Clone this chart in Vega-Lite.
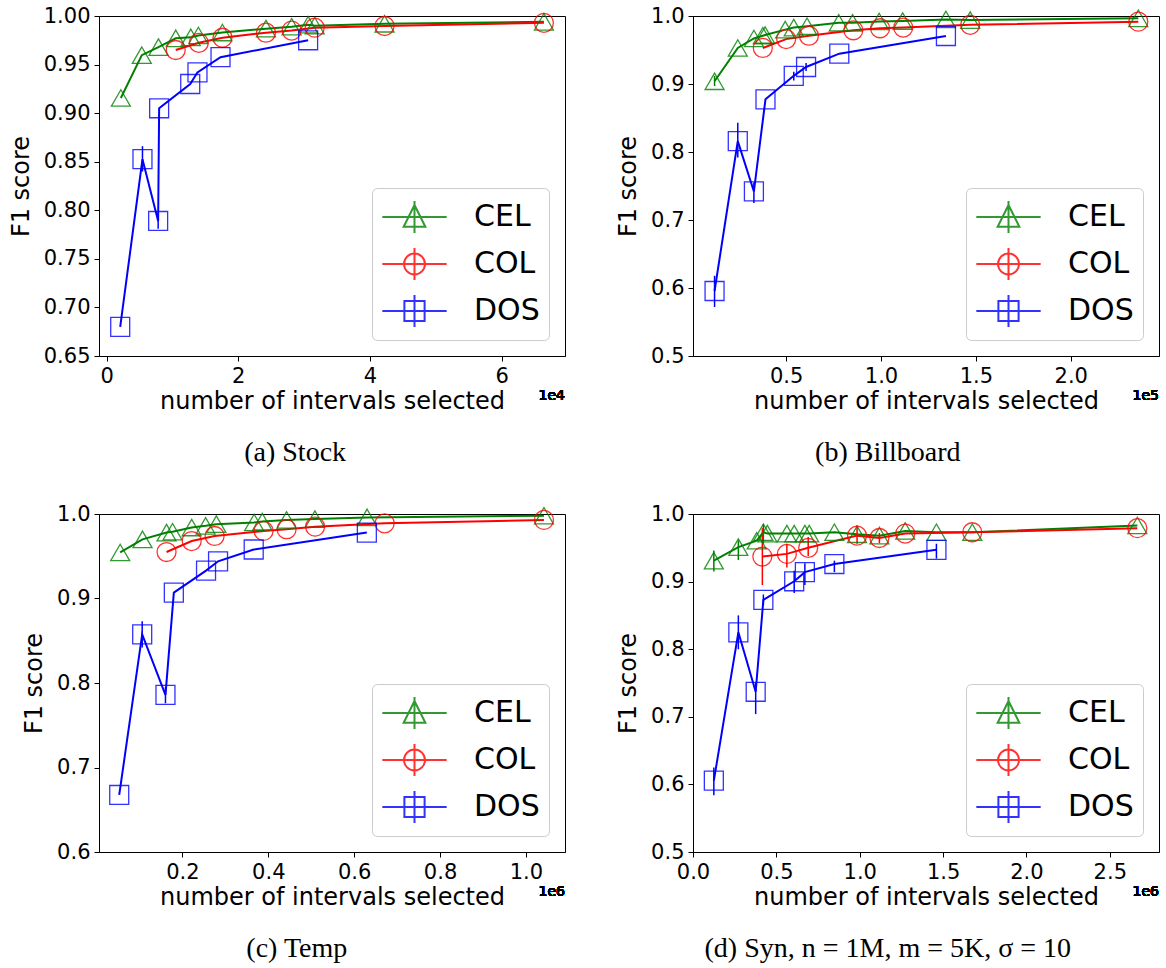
{
  "$schema": "https://vega.github.io/schema/vega-lite/v6.json",
  "background": "white",
  "padding": {"left": 8, "top": 4, "right": 5, "bottom": 5},
  "columns": 2,
  "spacing": {"row": 34, "column": 50},
  "resolve": {"scale": {"x": "independent", "y": "independent", "color": "independent", "shape": "independent"}, "legend": {"color": "independent", "shape": "independent"}},
  "datasets": {
    "a": [
      {"m": "CEL", "x": 2170, "y": 0.9156}, {"m": "CEL", "x": 5350, "y": 0.9597}, {"m": "CEL", "x": 7880, "y": 0.968},
      {"m": "CEL", "x": 10500, "y": 0.977}, {"m": "CEL", "x": 12780, "y": 0.978}, {"m": "CEL", "x": 13940, "y": 0.980},
      {"m": "CEL", "x": 17580, "y": 0.983}, {"m": "CEL", "x": 24200, "y": 0.987}, {"m": "CEL", "x": 28100, "y": 0.989},
      {"m": "CEL", "x": 30600, "y": 0.991}, {"m": "CEL", "x": 31600, "y": 0.990}, {"m": "CEL", "x": 42200, "y": 0.992},
      {"m": "CEL", "x": 66400, "y": 0.994},
      {"m": "COL", "x": 10500, "y": 0.965}, {"m": "COL", "x": 14000, "y": 0.9724}, {"m": "COL", "x": 17600, "y": 0.9776},
      {"m": "COL", "x": 24200, "y": 0.9828}, {"m": "COL", "x": 28100, "y": 0.985}, {"m": "COL", "x": 31600, "y": 0.988},
      {"m": "COL", "x": 42200, "y": 0.9897}, {"m": "COL", "x": 66400, "y": 0.993},
      {"m": "DOS", "x": 2070, "y": 0.680}, {"m": "DOS", "x": 5450, "y": 0.8526, "lo": 0.840, "hi": 0.866},
      {"m": "DOS", "x": 7830, "y": 0.789, "lo": 0.781, "hi": 0.797}, {"m": "DOS", "x": 7980, "y": 0.905},
      {"m": "DOS", "x": 12700, "y": 0.930}, {"m": "DOS", "x": 13800, "y": 0.942}, {"m": "DOS", "x": 17300, "y": 0.9576},
      {"m": "DOS", "x": 30600, "y": 0.975}
    ],
    "b": [
      {"m": "CEL", "x": 12260, "y": 0.904, "lo": 0.897, "hi": 0.912}, {"m": "CEL", "x": 24500, "y": 0.953}, {"m": "CEL", "x": 33000, "y": 0.967},
      {"m": "CEL", "x": 37700, "y": 0.971}, {"m": "CEL", "x": 38900, "y": 0.972}, {"m": "CEL", "x": 49500, "y": 0.980},
      {"m": "CEL", "x": 54000, "y": 0.983}, {"m": "CEL", "x": 61000, "y": 0.985}, {"m": "CEL", "x": 77700, "y": 0.990},
      {"m": "CEL", "x": 85000, "y": 0.990}, {"m": "CEL", "x": 99000, "y": 0.992}, {"m": "CEL", "x": 111400, "y": 0.9926},
      {"m": "CEL", "x": 134200, "y": 0.995}, {"m": "CEL", "x": 147000, "y": 0.994}, {"m": "CEL", "x": 235600, "y": 0.9966},
      {"m": "COL", "x": 37700, "y": 0.953}, {"m": "COL", "x": 50000, "y": 0.966}, {"m": "COL", "x": 62000, "y": 0.971},
      {"m": "COL", "x": 85400, "y": 0.979}, {"m": "COL", "x": 99500, "y": 0.982}, {"m": "COL", "x": 111700, "y": 0.983},
      {"m": "COL", "x": 147000, "y": 0.987}, {"m": "COL", "x": 235600, "y": 0.9917},
      {"m": "DOS", "x": 12260, "y": 0.5956, "lo": 0.572, "hi": 0.618}, {"m": "DOS", "x": 24500, "y": 0.816, "lo": 0.792, "hi": 0.843},
      {"m": "DOS", "x": 33000, "y": 0.742, "lo": 0.725, "hi": 0.755}, {"m": "DOS", "x": 39100, "y": 0.8775},
      {"m": "DOS", "x": 54000, "y": 0.912, "lo": 0.905, "hi": 0.918}, {"m": "DOS", "x": 60500, "y": 0.925, "lo": 0.919, "hi": 0.931},
      {"m": "DOS", "x": 78000, "y": 0.9446}, {"m": "DOS", "x": 134200, "y": 0.9706}
    ],
    "c": [
      {"m": "CEL", "x": 55000, "y": 0.9545}, {"m": "CEL", "x": 107000, "y": 0.970}, {"m": "CEL", "x": 163000, "y": 0.978},
      {"m": "CEL", "x": 177000, "y": 0.979}, {"m": "CEL", "x": 221600, "y": 0.984}, {"m": "CEL", "x": 254000, "y": 0.986},
      {"m": "CEL", "x": 279000, "y": 0.988}, {"m": "CEL", "x": 367000, "y": 0.990}, {"m": "CEL", "x": 386000, "y": 0.991},
      {"m": "CEL", "x": 442600, "y": 0.993}, {"m": "CEL", "x": 508600, "y": 0.994}, {"m": "CEL", "x": 630000, "y": 0.996},
      {"m": "CEL", "x": 1042000, "y": 0.998},
      {"m": "COL", "x": 163000, "y": 0.955}, {"m": "COL", "x": 221600, "y": 0.968}, {"m": "COL", "x": 275000, "y": 0.974},
      {"m": "COL", "x": 389000, "y": 0.980}, {"m": "COL", "x": 442600, "y": 0.982}, {"m": "COL", "x": 509000, "y": 0.985},
      {"m": "COL", "x": 671000, "y": 0.989}, {"m": "COL", "x": 1042000, "y": 0.993},
      {"m": "DOS", "x": 52800, "y": 0.6675}, {"m": "DOS", "x": 106300, "y": 0.8575, "lo": 0.842, "hi": 0.873},
      {"m": "DOS", "x": 160500, "y": 0.786, "lo": 0.776, "hi": 0.795}, {"m": "DOS", "x": 180000, "y": 0.907},
      {"m": "DOS", "x": 255000, "y": 0.933}, {"m": "DOS", "x": 283000, "y": 0.944}, {"m": "DOS", "x": 366000, "y": 0.958},
      {"m": "DOS", "x": 629500, "y": 0.978}
    ],
    "d": [
      {"m": "CEL", "x": 125000, "y": 0.931, "lo": 0.915, "hi": 0.946}, {"m": "CEL", "x": 272000, "y": 0.951, "lo": 0.932, "hi": 0.961},
      {"m": "CEL", "x": 382000, "y": 0.9605}, {"m": "CEL", "x": 422000, "y": 0.973, "lo": 0.956, "hi": 0.985},
      {"m": "CEL", "x": 446000, "y": 0.971}, {"m": "CEL", "x": 563000, "y": 0.971}, {"m": "CEL", "x": 607000, "y": 0.971},
      {"m": "CEL", "x": 671000, "y": 0.971}, {"m": "CEL", "x": 697000, "y": 0.971}, {"m": "CEL", "x": 848000, "y": 0.973},
      {"m": "CEL", "x": 984000, "y": 0.970}, {"m": "CEL", "x": 1118000, "y": 0.968}, {"m": "CEL", "x": 1273000, "y": 0.975},
      {"m": "CEL", "x": 1460000, "y": 0.973}, {"m": "CEL", "x": 1675000, "y": 0.973}, {"m": "CEL", "x": 2665000, "y": 0.983},
      {"m": "COL", "x": 416000, "y": 0.937, "lo": 0.895, "hi": 0.979}, {"m": "COL", "x": 563000, "y": 0.941, "lo": 0.921, "hi": 0.956},
      {"m": "COL", "x": 691000, "y": 0.950, "lo": 0.938, "hi": 0.966}, {"m": "COL", "x": 984000, "y": 0.968, "lo": 0.956, "hi": 0.983},
      {"m": "COL", "x": 1118000, "y": 0.9645, "lo": 0.957, "hi": 0.972}, {"m": "COL", "x": 1273000, "y": 0.971},
      {"m": "COL", "x": 1675000, "y": 0.973}, {"m": "COL", "x": 2665000, "y": 0.979},
      {"m": "DOS", "x": 125000, "y": 0.6055, "lo": 0.584, "hi": 0.625}, {"m": "DOS", "x": 272000, "y": 0.825, "lo": 0.800, "hi": 0.850},
      {"m": "DOS", "x": 376000, "y": 0.737, "lo": 0.704, "hi": 0.751}, {"m": "DOS", "x": 422000, "y": 0.873, "lo": 0.865, "hi": 0.881},
      {"m": "DOS", "x": 607000, "y": 0.9005, "lo": 0.883, "hi": 0.916}, {"m": "DOS", "x": 671000, "y": 0.914, "lo": 0.895, "hi": 0.927},
      {"m": "DOS", "x": 848000, "y": 0.926, "lo": 0.914, "hi": 0.931}, {"m": "DOS", "x": 1460000, "y": 0.947, "lo": 0.934, "hi": 0.956}
    ]
  },
  "concat": [
    {
      "width": 466, "height": 340,
      "data": {"name": "a"},
      "title": {"text": "(a) Stock", "orient": "bottom", "anchor": "middle", "frame": "bounds", "font": "Liberation Serif", "fontSize": 28, "fontWeight": "normal", "color": "black", "offset": 26, "dx": 8},
      "encoding": {
        "x": {"field": "x", "type": "quantitative", "scale": {"domain": [-1150, 69600], "nice": false, "zero": false},
              "axis": {"values": [0, 20000, 40000, 60000], "labelExpr": "format(datum.value/10000, 'd')", "title": "number of intervals selected"}},
        "y": {"field": "y", "type": "quantitative", "scale": {"domain": [0.65, 1.0], "nice": false, "zero": false},
              "axis": {"values": [0.65, 0.7, 0.75, 0.8, 0.85, 0.9, 0.95, 1.0], "format": ".2f", "title": "F1 score"}},
        "color": {"field": "m", "type": "nominal", "scale": {"domain": ["CEL", "COL", "DOS"], "range": ["#008000", "#ff0000", "#0000ff"]},
          "legend": {"orient": "bottom-right", "offset": 16, "title": null, "labelFont": "DejaVu Sans", "labelFontSize": 30, "labelColor": "black",
            "symbolSize": 1400, "symbolStrokeWidth": 2, "symbolOffset": 13.5, "labelOffset": 39.5, "rowPadding": 7, "padding": 9,
            "fillColor": "rgba(255,255,255,0.8)", "strokeColor": "#cccccc", "cornerRadius": 5}}
      },
      "layer": [
        {"mark": {"type": "line", "strokeWidth": 2}},
        {"transform": [{"filter": "isValid(datum.lo)"}], "mark": {"type": "rule", "strokeWidth": 1.5},
         "encoding": {"y": {"field": "lo", "type": "quantitative", "title": "F1 score"}, "y2": {"field": "hi"}}},
        {"transform": [{"filter": "datum.m === 'CEL'"}], "mark": {"type": "point", "shape": "triangle-up", "filled": false, "size": 360, "strokeWidth": 1.3, "opacity": 0.8}},
        {"transform": [{"filter": "datum.m === 'COL'"}], "mark": {"type": "point", "shape": "circle", "filled": false, "size": 360, "strokeWidth": 1.3, "opacity": 0.8}},
        {"transform": [{"filter": "datum.m === 'DOS'"}], "mark": {"type": "point", "shape": "square", "filled": false, "size": 360, "strokeWidth": 1.3, "opacity": 0.8}},
        {"transform": [{"filter": "false"}], "mark": {"type": "point", "filled": false},
         "encoding": {"shape": {"field": "m", "type": "nominal", "legend": null, "scale": {"domain": ["CEL", "COL", "DOS"], "range": [
           "M-1.72,0H1.72M0,-0.85V0.85M0,-0.64L0.58,0.52L-0.58,0.52Z",
           "M-1.72,0H1.72M0,-0.85V0.85M0.56,0A0.56,0.56,0,1,1,-0.56,0A0.56,0.56,0,1,1,0.56,0",
           "M-1.72,0H1.72M0,-0.85V0.85M-0.54,-0.54H0.54V0.54H-0.54Z"]}}}},
        {"mark": {"type": "text", "align": "right", "baseline": "top", "dy": 33, "fontSize": 14, "font": "DejaVu Sans", "fontWeight": "normal", "color": "black"},
         "encoding": {"x": {"datum": 69600}, "y": {"datum": 0.65}, "text": {"value": "1e4"}, "color": {"value": "black"}}}
      ]
    },
    {
      "width": 466, "height": 340,
      "data": {"name": "b"},
      "title": {"text": "(b) Billboard", "orient": "bottom", "anchor": "middle", "frame": "bounds", "font": "Liberation Serif", "fontSize": 28, "fontWeight": "normal", "color": "black", "offset": 26},
      "encoding": {
        "x": {"field": "x", "type": "quantitative", "scale": {"domain": [900, 246500], "nice": false, "zero": false},
              "axis": {"values": [50000, 100000, 150000, 200000], "labelExpr": "format(datum.value/100000, '.1f')", "title": "number of intervals selected"}},
        "y": {"field": "y", "type": "quantitative", "scale": {"domain": [0.5, 1.0], "nice": false, "zero": false},
              "axis": {"values": [0.5, 0.6, 0.7, 0.8, 0.9, 1.0], "format": ".1f", "title": "F1 score"}},
        "color": {"field": "m", "type": "nominal", "scale": {"domain": ["CEL", "COL", "DOS"], "range": ["#008000", "#ff0000", "#0000ff"]},
          "legend": {"orient": "bottom-right", "offset": 16, "title": null, "labelFont": "DejaVu Sans", "labelFontSize": 30, "labelColor": "black",
            "symbolSize": 1400, "symbolStrokeWidth": 2, "symbolOffset": 13.5, "labelOffset": 39.5, "rowPadding": 7, "padding": 9,
            "fillColor": "rgba(255,255,255,0.8)", "strokeColor": "#cccccc", "cornerRadius": 5}}
      },
      "layer": [
        {"mark": {"type": "line", "strokeWidth": 2}},
        {"transform": [{"filter": "isValid(datum.lo)"}], "mark": {"type": "rule", "strokeWidth": 1.5},
         "encoding": {"y": {"field": "lo", "type": "quantitative", "title": "F1 score"}, "y2": {"field": "hi"}}},
        {"transform": [{"filter": "datum.m === 'CEL'"}], "mark": {"type": "point", "shape": "triangle-up", "filled": false, "size": 360, "strokeWidth": 1.3, "opacity": 0.8}},
        {"transform": [{"filter": "datum.m === 'COL'"}], "mark": {"type": "point", "shape": "circle", "filled": false, "size": 360, "strokeWidth": 1.3, "opacity": 0.8}},
        {"transform": [{"filter": "datum.m === 'DOS'"}], "mark": {"type": "point", "shape": "square", "filled": false, "size": 360, "strokeWidth": 1.3, "opacity": 0.8}},
        {"transform": [{"filter": "false"}], "mark": {"type": "point", "filled": false},
         "encoding": {"shape": {"field": "m", "type": "nominal", "legend": null, "scale": {"domain": ["CEL", "COL", "DOS"], "range": [
           "M-1.72,0H1.72M0,-0.85V0.85M0,-0.64L0.58,0.52L-0.58,0.52Z",
           "M-1.72,0H1.72M0,-0.85V0.85M0.56,0A0.56,0.56,0,1,1,-0.56,0A0.56,0.56,0,1,1,0.56,0",
           "M-1.72,0H1.72M0,-0.85V0.85M-0.54,-0.54H0.54V0.54H-0.54Z"]}}}},
        {"mark": {"type": "text", "align": "right", "baseline": "top", "dy": 33, "fontSize": 14, "font": "DejaVu Sans", "fontWeight": "normal", "color": "black"},
         "encoding": {"x": {"datum": 246500}, "y": {"datum": 0.5}, "text": {"value": "1e5"}, "color": {"value": "black"}}}
      ]
    },
    {
      "width": 466, "height": 338,
      "data": {"name": "c"},
      "title": {"text": "(c) Temp", "orient": "bottom", "anchor": "middle", "frame": "bounds", "font": "Liberation Serif", "fontSize": 28, "fontWeight": "normal", "color": "black", "offset": 26, "dx": 3},
      "encoding": {
        "x": {"field": "x", "type": "quantitative", "scale": {"domain": [5700, 1091000], "nice": false, "zero": false},
              "axis": {"values": [200000, 400000, 600000, 800000, 1000000], "labelExpr": "format(datum.value/1000000, '.1f')", "title": "number of intervals selected"}},
        "y": {"field": "y", "type": "quantitative", "scale": {"domain": [0.6, 1.0], "nice": false, "zero": false},
              "axis": {"values": [0.6, 0.7, 0.8, 0.9, 1.0], "format": ".1f", "title": "F1 score"}},
        "color": {"field": "m", "type": "nominal", "scale": {"domain": ["CEL", "COL", "DOS"], "range": ["#008000", "#ff0000", "#0000ff"]},
          "legend": {"orient": "bottom-right", "offset": 16, "title": null, "labelFont": "DejaVu Sans", "labelFontSize": 30, "labelColor": "black",
            "symbolSize": 1400, "symbolStrokeWidth": 2, "symbolOffset": 13.5, "labelOffset": 39.5, "rowPadding": 7, "padding": 9,
            "fillColor": "rgba(255,255,255,0.8)", "strokeColor": "#cccccc", "cornerRadius": 5}}
      },
      "layer": [
        {"mark": {"type": "line", "strokeWidth": 2}},
        {"transform": [{"filter": "isValid(datum.lo)"}], "mark": {"type": "rule", "strokeWidth": 1.5},
         "encoding": {"y": {"field": "lo", "type": "quantitative", "title": "F1 score"}, "y2": {"field": "hi"}}},
        {"transform": [{"filter": "datum.m === 'CEL'"}], "mark": {"type": "point", "shape": "triangle-up", "filled": false, "size": 360, "strokeWidth": 1.3, "opacity": 0.8}},
        {"transform": [{"filter": "datum.m === 'COL'"}], "mark": {"type": "point", "shape": "circle", "filled": false, "size": 360, "strokeWidth": 1.3, "opacity": 0.8}},
        {"transform": [{"filter": "datum.m === 'DOS'"}], "mark": {"type": "point", "shape": "square", "filled": false, "size": 360, "strokeWidth": 1.3, "opacity": 0.8}},
        {"transform": [{"filter": "false"}], "mark": {"type": "point", "filled": false},
         "encoding": {"shape": {"field": "m", "type": "nominal", "legend": null, "scale": {"domain": ["CEL", "COL", "DOS"], "range": [
           "M-1.72,0H1.72M0,-0.85V0.85M0,-0.64L0.58,0.52L-0.58,0.52Z",
           "M-1.72,0H1.72M0,-0.85V0.85M0.56,0A0.56,0.56,0,1,1,-0.56,0A0.56,0.56,0,1,1,0.56,0",
           "M-1.72,0H1.72M0,-0.85V0.85M-0.54,-0.54H0.54V0.54H-0.54Z"]}}}},
        {"mark": {"type": "text", "align": "right", "baseline": "top", "dy": 33, "fontSize": 14, "font": "DejaVu Sans", "fontWeight": "normal", "color": "black"},
         "encoding": {"x": {"datum": 1091000}, "y": {"datum": 0.6}, "text": {"value": "1e6"}, "color": {"value": "black"}}}
      ]
    },
    {
      "width": 466, "height": 338,
      "data": {"name": "d"},
      "title": {"text": "(d) Syn, n = 1M, m = 5K, σ = 10", "orient": "bottom", "anchor": "middle", "frame": "bounds", "font": "Liberation Serif", "fontSize": 28, "fontWeight": "normal", "color": "black", "offset": 26},
      "encoding": {
        "x": {"field": "x", "type": "quantitative", "scale": {"domain": [0, 2795000], "nice": false, "zero": false},
              "axis": {"values": [0, 500000, 1000000, 1500000, 2000000, 2500000], "labelExpr": "format(datum.value/1000000, '.1f')", "title": "number of intervals selected"}},
        "y": {"field": "y", "type": "quantitative", "scale": {"domain": [0.5, 1.0], "nice": false, "zero": false},
              "axis": {"values": [0.5, 0.6, 0.7, 0.8, 0.9, 1.0], "format": ".1f", "title": "F1 score"}},
        "color": {"field": "m", "type": "nominal", "scale": {"domain": ["CEL", "COL", "DOS"], "range": ["#008000", "#ff0000", "#0000ff"]},
          "legend": {"orient": "bottom-right", "offset": 16, "title": null, "labelFont": "DejaVu Sans", "labelFontSize": 30, "labelColor": "black",
            "symbolSize": 1400, "symbolStrokeWidth": 2, "symbolOffset": 13.5, "labelOffset": 39.5, "rowPadding": 7, "padding": 9,
            "fillColor": "rgba(255,255,255,0.8)", "strokeColor": "#cccccc", "cornerRadius": 5}}
      },
      "layer": [
        {"mark": {"type": "line", "strokeWidth": 2}},
        {"transform": [{"filter": "isValid(datum.lo)"}], "mark": {"type": "rule", "strokeWidth": 1.5},
         "encoding": {"y": {"field": "lo", "type": "quantitative", "title": "F1 score"}, "y2": {"field": "hi"}}},
        {"transform": [{"filter": "datum.m === 'CEL'"}], "mark": {"type": "point", "shape": "triangle-up", "filled": false, "size": 360, "strokeWidth": 1.3, "opacity": 0.8}},
        {"transform": [{"filter": "datum.m === 'COL'"}], "mark": {"type": "point", "shape": "circle", "filled": false, "size": 360, "strokeWidth": 1.3, "opacity": 0.8}},
        {"transform": [{"filter": "datum.m === 'DOS'"}], "mark": {"type": "point", "shape": "square", "filled": false, "size": 360, "strokeWidth": 1.3, "opacity": 0.8}},
        {"transform": [{"filter": "false"}], "mark": {"type": "point", "filled": false},
         "encoding": {"shape": {"field": "m", "type": "nominal", "legend": null, "scale": {"domain": ["CEL", "COL", "DOS"], "range": [
           "M-1.72,0H1.72M0,-0.85V0.85M0,-0.64L0.58,0.52L-0.58,0.52Z",
           "M-1.72,0H1.72M0,-0.85V0.85M0.56,0A0.56,0.56,0,1,1,-0.56,0A0.56,0.56,0,1,1,0.56,0",
           "M-1.72,0H1.72M0,-0.85V0.85M-0.54,-0.54H0.54V0.54H-0.54Z"]}}}},
        {"mark": {"type": "text", "align": "right", "baseline": "top", "dy": 33, "fontSize": 14, "font": "DejaVu Sans", "fontWeight": "normal", "color": "black"},
         "encoding": {"x": {"datum": 2795000}, "y": {"datum": 0.5}, "text": {"value": "1e6"}, "color": {"value": "black"}}}
      ]
    }
  ],
  "config": {
    "view": {"stroke": "black", "strokeWidth": 1},
    "axis": {"labelFont": "DejaVu Sans", "labelFontSize": 21, "labelColor": "black", "titleFont": "DejaVu Sans", "titleFontSize": 24,
             "titleFontWeight": "normal", "titleColor": "black", "tickColor": "black", "tickSize": 5, "tickWidth": 1,
             "domainColor": "black", "domainWidth": 1, "grid": false, "labelPadding": 4, "labelOverlap": false, "labelFlush": false, "labelBound": false},
    "axisX": {"titlePadding": 3},
    "axisY": {"titlePadding": 10}
  }
}
